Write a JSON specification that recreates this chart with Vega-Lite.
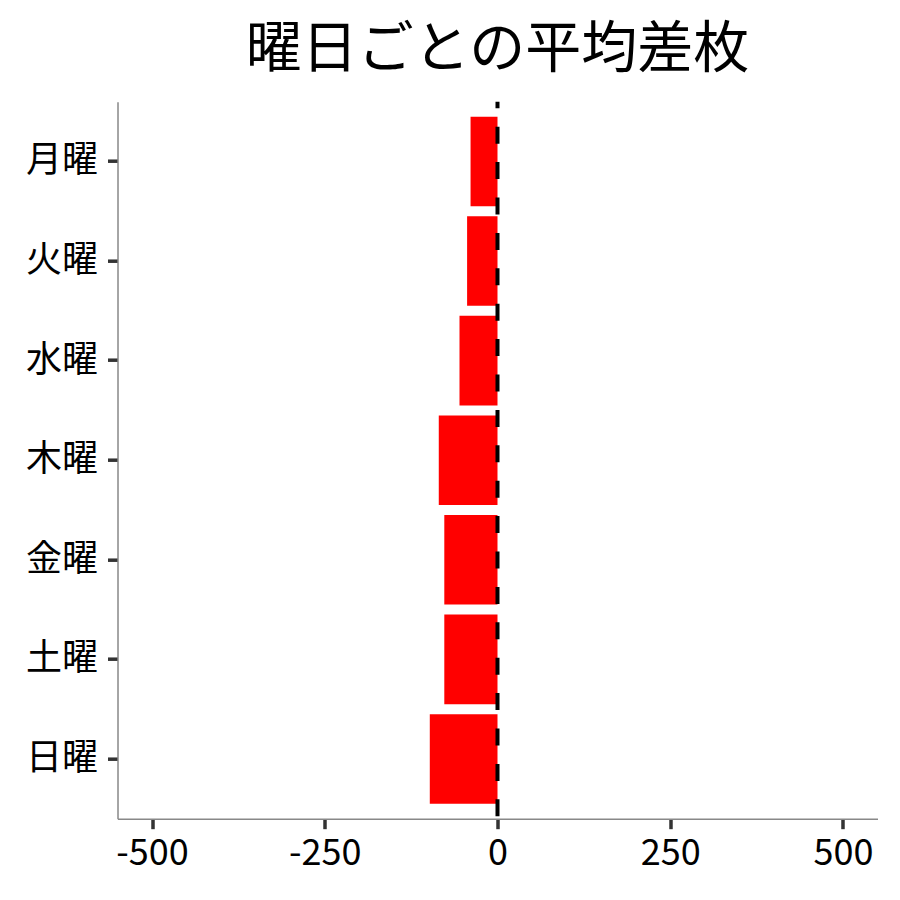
{
  "$schema": "https://vega.github.io/schema/vega-lite/v6.json",
  "autosize": {"type": "none"},
  "padding": {"left": 117.5, "top": 101.7, "right": 22, "bottom": 81},
  "width": 760,
  "height": 717,
  "background": "white",
  "config": {"view": {"stroke": null}, "font": "Noto Sans CJK JP"},
  "title": {
    "text": "曜日ごとの平均差枚",
    "font": "Noto Sans CJK JP",
    "fontSize": 56,
    "fontWeight": "normal",
    "color": "black",
    "anchor": "middle",
    "offset": 21
  },
  "data": {
    "values": [
      {"day": "月曜", "diff": -39},
      {"day": "火曜", "diff": -44},
      {"day": "水曜", "diff": -55},
      {"day": "木曜", "diff": -85},
      {"day": "金曜", "diff": -77},
      {"day": "土曜", "diff": -77},
      {"day": "日曜", "diff": -98}
    ]
  },
  "layer": [
    {
      "mark": {"type": "bar", "color": "#ff0000"},
      "encoding": {
        "y": {
          "field": "day",
          "type": "nominal",
          "sort": ["月曜", "火曜", "水曜", "木曜", "金曜", "土曜", "日曜"],
          "scale": {"paddingInner": 0.1, "paddingOuter": 0.15},
          "axis": {
            "title": null,
            "domainColor": "#888888",
            "domainWidth": 1.5,
            "tickColor": "#333333",
            "tickWidth": 3.5,
            "tickSize": 10,
            "labelFont": "Noto Sans CJK JP",
            "labelFontSize": 36,
            "labelColor": "black",
            "labelPadding": 10
          }
        },
        "x": {
          "field": "diff",
          "type": "quantitative",
          "scale": {"domain": [-550, 550], "nice": false, "zero": false},
          "axis": {
            "title": null,
            "values": [-500, -250, 0, 250, 500],
            "labelExpr": "'' + datum.value",
            "grid": false,
            "domainColor": "#888888",
            "domainWidth": 1.5,
            "tickColor": "#333333",
            "tickWidth": 3.5,
            "tickSize": 10,
            "labelFont": "Noto Sans CJK JP",
            "labelFontSize": 36,
            "labelColor": "black",
            "labelPadding": 8,
            "labelFlush": false
          }
        }
      }
    },
    {
      "data": {"values": [{"zero": 0}]},
      "mark": {"type": "rule", "color": "black", "strokeWidth": 4, "strokeDash": [17, 18.4], "strokeDashOffset": 10.4},
      "encoding": {
        "x": {"field": "zero", "type": "quantitative"}
      }
    }
  ]
}
